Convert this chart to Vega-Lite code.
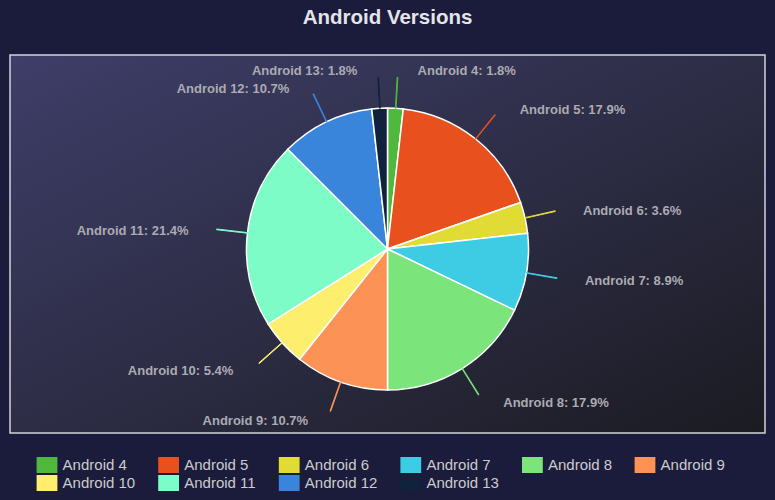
{
  "$schema": "https://vega.github.io/schema/vega-lite/v6.json",
  "width": 755,
  "height": 378,
  "autosize": "none",
  "padding": {"left": 10, "top": 55, "right": 10, "bottom": 67},
  "background": "#1b1b3b",
  "title": {
    "text": "Android Versions",
    "color": "#e4e4ea",
    "font": "Liberation Sans",
    "fontSize": 20.5,
    "fontWeight": "bold",
    "anchor": "middle",
    "offset": 26
  },
  "data": {
    "values": [
      {"version": "Android 4", "count": 1, "order": 1},
      {"version": "Android 5", "count": 10, "order": 2},
      {"version": "Android 6", "count": 2, "order": 3},
      {"version": "Android 7", "count": 5, "order": 4},
      {"version": "Android 8", "count": 10, "order": 5},
      {"version": "Android 9", "count": 6, "order": 6},
      {"version": "Android 10", "count": 3, "order": 7},
      {"version": "Android 11", "count": 12, "order": 8},
      {"version": "Android 12", "count": 6, "order": 9},
      {"version": "Android 13", "count": 1, "order": 10}
    ]
  },
  "transform": [
    {"joinaggregate": [{"op": "sum", "field": "count", "as": "total"}]},
    {
      "window": [{"op": "sum", "field": "count", "as": "cum"}],
      "sort": [{"field": "order"}],
      "frame": [null, 0]
    },
    {"calculate": "datum.cum - datum.count / 2", "as": "mid"},
    {"calculate": "datum.mid + 0.04", "as": "mid2"},
    {"calculate": "datum.version + ': ' + format(datum.count / datum.total * 100, '.1f') + '%'", "as": "label_text"}
  ],
  "layer": [
    {
      "data": {"values": [{}]},
      "transform": [],
      "mark": {
        "type": "rect",
        "stroke": "#d2d2da",
        "strokeWidth": 1.5,
        "fill": {
          "gradient": "linear",
          "x1": 0, "y1": 0, "x2": 1, "y2": 1,
          "stops": [
            {"offset": 0, "color": "#3e3e69"},
            {"offset": 0.5, "color": "#2d2d46"},
            {"offset": 1, "color": "#1b1b22"}
          ]
        }
      },
      "encoding": {}
    },
    {
      "mark": {"type": "arc", "radius": 141, "stroke": "#ffffff", "strokeWidth": 1.5, "yOffset": 5},
      "encoding": {
        "theta": {"field": "count", "type": "quantitative", "stack": true, "scale": {"domain": [0, 56]}},
        "order": {"field": "order", "type": "quantitative"},
        "color": {
          "field": "version",
          "type": "nominal",
          "sort": ["Android 4", "Android 5", "Android 6", "Android 7", "Android 8", "Android 9", "Android 10", "Android 11", "Android 12", "Android 13"],
          "scale": {
            "domain": ["Android 4", "Android 5", "Android 6", "Android 7", "Android 8", "Android 9", "Android 10", "Android 11", "Android 12", "Android 13"],
            "range": ["#50b83c", "#e8501e", "#e0db35", "#3ecbe4", "#7be47a", "#fd9256", "#fdee6d", "#7efcc8", "#3a85dc", "#11233c"]
          },
          "legend": {
            "title": null,
            "orient": "none",
            "legendX": 29,
            "legendY": 402,
            "direction": "horizontal",
            "columns": 6,
            "columnPadding": 21.6,
            "rowPadding": 2,
            "symbolType": "M-1.3,-1H1.3V1H-1.3Z",
            "symbolSize": 256,
            "symbolStrokeWidth": 0,
            "symbolOpacity": 1,
            "labelOffset": 7.6,
            "labelColor": "#cccccc",
            "labelFont": "Liberation Sans",
            "labelFontSize": 15,
            "labelLimit": 200
          }
        }
      }
    },
    {
      "mark": {"type": "arc", "radius": 172, "radius2": 141, "strokeWidth": 1, "yOffset": 5},
      "encoding": {
        "theta": {"field": "mid", "type": "quantitative", "stack": null},
        "theta2": {"field": "mid2"},
        "color": {"field": "version", "type": "nominal", "legend": null},
        "stroke": {"field": "version", "type": "nominal", "legend": null, "scale": {
          "domain": ["Android 4", "Android 5", "Android 6", "Android 7", "Android 8", "Android 9", "Android 10", "Android 11", "Android 12", "Android 13"],
          "range": ["#50b83c", "#e8501e", "#e0db35", "#3ecbe4", "#7be47a", "#fd9256", "#fdee6d", "#7efcc8", "#3a85dc", "#11233c"]
        }}
      }
    },
    {
      "transform": [{"filter": "datum.mid < 28"}],
      "mark": {"type": "text", "radius": 180, "align": "left", "baseline": "middle", "dx": 20, "yOffset": 7, "font": "Liberation Sans", "fontSize": 13, "fontWeight": "bold", "color": "#ababb2"},
      "encoding": {
        "theta": {"field": "mid", "type": "quantitative", "stack": null},
        "text": {"field": "label_text"}
      }
    },
    {
      "transform": [{"filter": "datum.mid >= 28"}],
      "mark": {"type": "text", "radius": 180, "align": "right", "baseline": "middle", "dx": -20, "yOffset": 7, "font": "Liberation Sans", "fontSize": 13, "fontWeight": "bold", "color": "#ababb2"},
      "encoding": {
        "theta": {"field": "mid", "type": "quantitative", "stack": null},
        "text": {"field": "label_text"}
      }
    }
  ],
  "config": {
    "view": {"stroke": null}
  }
}
